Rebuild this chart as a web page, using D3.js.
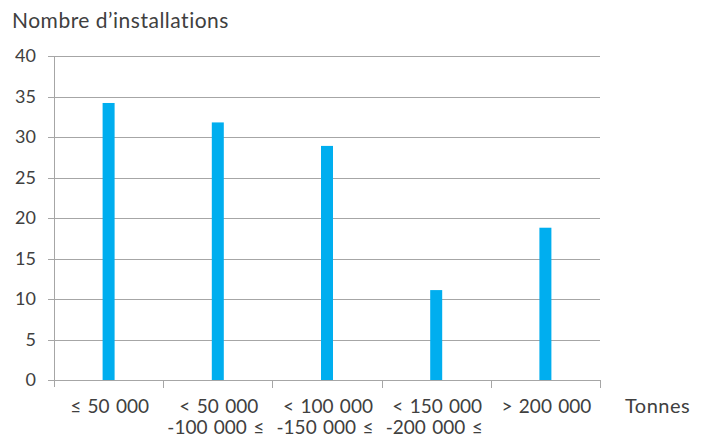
<!DOCTYPE html>
<html>
<head>
<meta charset="utf-8">
<script src="https://cdn.jsdelivr.net/npm/d3@7"></script>
<style>
  html, body { margin: 0; padding: 0; background: #fff; }
  svg text { font-family: "Lato", "Open Sans", sans-serif; fill: #404040; }
</style>
</head>
<body>
<svg id="chart" width="705" height="439"></svg>
<script>
// Categories (two text lines each) and counts of installations
const categoryLine1 = ["≤ 50 000", "< 50 000", "< 100 000", "< 150 000", "> 200 000"];
const categoryLine2 = ["", "-100 000 ≤", "-150 000 ≤", "-200 000 ≤", ""];
const counts = [34.2, 31.8, 28.9, 11.1, 18.8];
const yTicks = [0, 5, 10, 15, 20, 25, 30, 35, 40];

const svg = d3.select("#chart");
const plotLeft = 54, plotRight = 600, plotTop = 56, plotBottom = 380;

const x = d3.scaleBand()
  .domain(d3.range(counts.length))
  .range([plotLeft, plotRight])
  .paddingInner(0).paddingOuter(0);

const y = d3.scaleLinear().domain([0, 40]).range([plotBottom, plotTop]);

// Horizontal gridlines
svg.append("g")
  .selectAll("line")
  .data(yTicks.filter(d => d > 0))
  .join("line")
  .attr("x1", plotLeft - 6).attr("x2", plotRight)
  .attr("y1", d => Math.round(y(d)) + 0.5).attr("y2", d => Math.round(y(d)) + 0.5)
  .attr("stroke", "#a6a6a6").attr("stroke-width", 1);

// Y axis line and labels
svg.append("line")
  .attr("x1", plotLeft + 0.5).attr("x2", plotLeft + 0.5)
  .attr("y1", plotTop).attr("y2", plotBottom + 7)
  .attr("stroke", "#a6a6a6");

svg.append("g")
  .selectAll("text")
  .data(yTicks)
  .join("text")
  .attr("x", 36).attr("y", d => y(d))
  .attr("dy", "0.35em")
  .attr("text-anchor", "end")
  .attr("font-size", 18)
  .text(d => d);

// Bars
const barW = 12;
svg.append("g")
  .selectAll("rect")
  .data(counts)
  .join("rect")
  .attr("x", (d, i) => x(i) + x.bandwidth() / 2 - barW / 2)
  .attr("y", d => y(d))
  .attr("width", barW)
  .attr("height", d => y(0) - y(d))
  .attr("fill", "#00aeef");

// X axis line and category separators
svg.append("line")
  .attr("x1", plotLeft - 6).attr("x2", plotRight)
  .attr("y1", plotBottom + 0.5).attr("y2", plotBottom + 0.5)
  .attr("stroke", "#a6a6a6");

svg.append("g")
  .selectAll("line")
  .data(d3.range(1, counts.length + 1))
  .join("line")
  .attr("x1", i => Math.round(plotLeft + i * x.bandwidth()) + 0.5)
  .attr("x2", i => Math.round(plotLeft + i * x.bandwidth()) + 0.5)
  .attr("y1", plotBottom).attr("y2", plotBottom + 8)
  .attr("stroke", "#a6a6a6");

// Category labels
const lab = svg.append("g")
  .selectAll("text")
  .data(counts.map((d, i) => i))
  .join("text")
  .attr("text-anchor", "middle")
  .attr("font-size", 19)
  .attr("word-spacing", 1.5);
lab.append("tspan")
  .attr("x", i => x(i) + x.bandwidth() / 2 + 1)
  .attr("y", 413)
  .text(i => categoryLine1[i]);
lab.append("tspan")
  .attr("x", i => x(i) + x.bandwidth() / 2 - 2)
  .attr("y", 434)
  .text(i => categoryLine2[i]);

// Axis titles
svg.append("text")
  .attr("x", 12).attr("y", 28)
  .attr("font-size", 21)
  .attr("letter-spacing", 0.5)
  .text("Nombre d’installations");

svg.append("text")
  .attr("x", 625).attr("y", 413)
  .attr("font-size", 20)
  .attr("letter-spacing", 0.5)
  .text("Tonnes");
</script>
</body>
</html>
